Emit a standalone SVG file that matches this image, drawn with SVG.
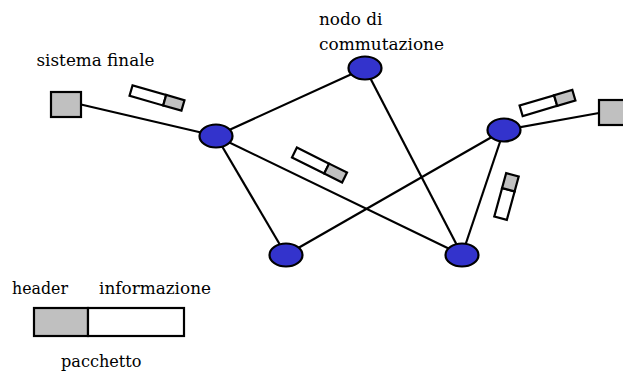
<svg xmlns="http://www.w3.org/2000/svg" width="623" height="375" viewBox="0 0 623 375">
<style>
.e{stroke:#000;stroke-width:2.2;fill:none}
.n{fill:#3333cc;stroke:#000;stroke-width:2.2}
.g{fill:#c0c0c0;stroke:#000;stroke-width:2.2}
.w{fill:#fff;stroke:#000;stroke-width:2.2}
.t{font-family:"DejaVu Serif",serif;font-size:17px;fill:#000}
</style>
<rect width="623" height="375" fill="#fff"/>
<g id="connectors">
<line class="e" x1="81" y1="104.5" x2="216" y2="136"/>
<line class="e" x1="216" y1="136" x2="365" y2="68"/>
<line class="e" x1="216" y1="136" x2="286" y2="255"/>
<line class="e" x1="216" y1="136" x2="462" y2="255"/>
<line class="e" x1="365" y1="68" x2="462" y2="255"/>
<line class="e" x1="286" y1="255" x2="504" y2="130"/>
<line class="e" x1="504" y1="130" x2="462" y2="255"/>
<line class="e" x1="504" y1="130" x2="599" y2="113"/>
</g>
<g id="host-left"><rect class="g" x="51" y="92" width="30" height="25"/></g>
<g id="host-right"><rect class="g" x="599" y="100" width="30" height="25"/></g>
<g id="node-a"><ellipse class="n" cx="216" cy="136" rx="16.5" ry="11.5"/></g>
<g id="node-top"><ellipse class="n" cx="365" cy="68" rx="16.5" ry="11.5"/></g>
<g id="node-right"><ellipse class="n" cx="504" cy="130" rx="16.5" ry="11.5"/></g>
<g id="node-bl"><ellipse class="n" cx="286" cy="255" rx="16.5" ry="11.5"/></g>
<g id="node-br"><ellipse class="n" cx="462" cy="255" rx="16.5" ry="11.5"/></g>
<g id="packet-1" transform="translate(157,98) rotate(16)">
<rect class="w" x="-27" y="-5.5" width="35" height="11"/>
<rect class="g" x="8" y="-5.5" width="19" height="11"/>
</g>
<g id="packet-2" transform="translate(319.5,165) rotate(26.5)">
<rect class="w" x="-28" y="-5.5" width="36" height="11"/>
<rect class="g" x="8" y="-5.5" width="20" height="11"/>
</g>
<g id="packet-3" transform="translate(547.5,103) rotate(-16.5)">
<rect class="w" x="-27.5" y="-5.5" width="36" height="11"/>
<rect class="g" x="8.5" y="-5.5" width="19" height="11"/>
</g>
<g id="packet-4" transform="translate(506.5,196.5) rotate(-74.7)">
<rect class="w" x="-22.5" y="-6.5" width="29.5" height="13"/>
<rect class="g" x="7" y="-6.5" width="15.5" height="13"/>
</g>
<g id="legend">
<rect class="g" x="34" y="308" width="54" height="28"/>
<rect class="w" x="88" y="308" width="96" height="28"/>
</g>
<g id="labels">
<text class="t" x="36.5" y="66" textLength="118" lengthAdjust="spacingAndGlyphs">sistema finale</text>
<text class="t" x="319" y="25" textLength="63.5" lengthAdjust="spacingAndGlyphs">nodo di</text>
<text class="t" x="319" y="49.5" textLength="125" lengthAdjust="spacingAndGlyphs">commutazione</text>
<text class="t" x="12" y="294" textLength="56" lengthAdjust="spacingAndGlyphs">header</text>
<text class="t" x="99" y="294" textLength="112" lengthAdjust="spacingAndGlyphs">informazione</text>
<text class="t" x="61" y="367" textLength="80.5" lengthAdjust="spacingAndGlyphs">pacchetto</text>
</g>
</svg>
